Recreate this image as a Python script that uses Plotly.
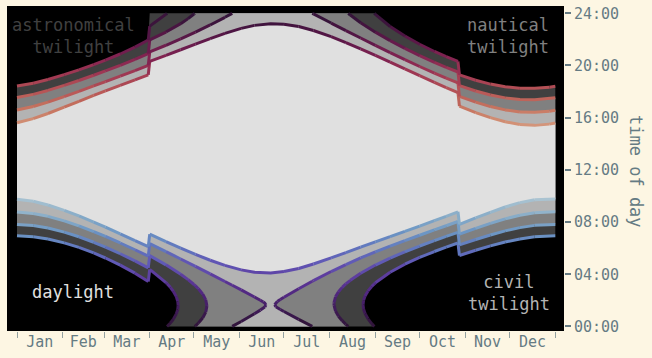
import plotly.graph_objects as go
import pandas as pd

BASE = pd.Timestamp("2013-01-01")

# ---- data: day offset from 1 Jan, time of day in hours
# (dusk values above 24 are after midnight; None = twilight lasts all night)
sun_day = [0, 11, 21, 32, 42, 52, 60, 70, 80, 89, 90, 101, 111, 121, 131, 141, 152, 161, 172, 181,
           191, 201, 213, 223, 233, 243, 253, 263, 273, 283, 291, 299, 300, 311, 321, 331, 341, 351, 361, 365]
sunrise = [9.755, 9.591, 9.308, 8.900, 8.468, 7.998, 7.605, 7.099, 6.584, 6.119, 7.067, 6.502, 6.001, 5.521,
           5.073, 4.677, 4.335, 4.157, 4.104, 4.205, 4.445, 4.782, 5.252, 5.663, 6.078, 6.486, 6.890, 7.291,
           7.694, 8.105, 8.442, 8.787, 7.830, 8.314, 8.747, 9.154, 9.490, 9.711, 9.782, 9.764]
sunset = [15.617, 15.925, 16.320, 16.804, 17.256, 17.704, 18.055, 18.483, 18.904, 19.279, 20.321, 20.782,
          21.205, 21.633, 22.057, 22.459, 22.845, 23.075, 23.206, 23.169, 22.985, 22.682, 22.210, 21.759,
          21.276, 20.772, 20.258, 19.739, 19.220, 18.711, 18.312, 17.929, 16.882, 16.392, 16.001, 15.686,
          15.478, 15.411, 15.506, 15.588]

civil_day = [0, 11, 21, 32, 42, 52, 60, 70, 80, 89, 90, 101, 111, 121, 131, 141, 145.94, 152, 161, 165, 167,
             168, 168.8, 171.75, 174.7, 175.5, 176.5, 178.5, 181, 191, 200.2, 201, 213, 223, 233, 243, 253,
             263, 273, 283, 291, 299, 300, 311, 321, 331, 341, 351, 361, 365]
civil_dawn = [8.777, 8.663, 8.439, 8.093, 7.707, 7.270, 6.894, 6.396, 5.877, 5.394, 6.340, 5.733, 5.171,
              4.601, 4.024, 3.442, 3.156, 2.798, 2.259, 2.010, 1.874, 1.793, 1.645, None, 1.665, 1.818,
              1.907, 2.057, 2.233, 2.889, 3.462, 3.511, 4.208, 4.745, 5.248, 5.716, 6.159, 6.582, 6.991,
              7.396, 7.718, 8.041, 7.080, 7.517, 7.897, 8.244, 8.526, 8.715, 8.789, 8.783]
civil_dusk = [16.595, 16.853, 17.189, 17.611, 18.017, 18.432, 18.766, 19.186, 19.611, 20.004, 21.048,
              21.551, 22.035, 22.553, 23.106, 23.694, 24.000, 24.382, 24.973, 25.252, 25.402, 25.491,
              25.645, None, 25.665, 25.516, 25.435, 25.299, 25.141, 24.541, 24.000, 23.953, 23.254,
              22.677, 22.106, 21.542, 20.989, 20.448, 19.923, 19.420, 19.036, 18.675, 17.632, 17.189,
              16.851, 16.596, 16.442, 16.407, 16.499, 16.569]

naut_day = [0, 11, 21, 32, 42, 52, 60, 70, 80, 89, 90, 101, 111, 116, 120, 120.53, 121, 123, 126, 128,
            128.78, 171.9, 214.95, 215, 216, 218, 220.5, 223, 224.63, 226, 233, 243, 253, 263, 273, 283,
            291, 299, 300, 311, 321, 331, 341, 351, 361, 365]
naut_dawn = [7.818, 7.729, 7.540, 7.231, 6.872, 6.451, 6.078, 5.571, 5.022, 4.492, 5.431, 4.722, 3.998,
             3.588, 3.213, 3.156, 3.107, 2.885, 2.472, 2.037, 1.566, None, 1.727, 1.846, 2.272, 2.658,
             2.992, 3.261, 3.414, 3.535, 4.076, 4.704, 5.242, 5.722, 6.163, 6.580, 6.900, 7.213, 6.250,
             6.661, 7.009, 7.322, 7.574, 7.746, 7.821, 7.821]
naut_dusk = [17.554, 17.787, 18.088, 18.473, 18.852, 19.251, 19.582, 20.011, 20.466, 20.906, 21.957,
             22.562, 23.208, 23.592, 23.947, 24.000, 24.047, 24.265, 24.668, 25.099, 25.566, None,
             25.727, 25.608, 25.178, 24.784, 24.440, 24.161, 24.000, 23.865, 23.278, 22.554, 21.906,
             21.308, 20.751, 20.236, 19.854, 19.503, 18.462, 18.045, 17.739, 17.518, 17.394, 17.376,
             17.467, 17.531]

astro_day = [0, 11, 21, 32, 42, 52, 60, 70, 80, 89, 90, 101, 101.74, 104, 106, 108, 109, 109.28, 172,
             234.64, 235, 236, 238, 240.5, 242.31, 243, 253, 263, 273, 283, 291, 299, 300, 311, 321, 331,
             341, 351, 361, 365]
astro_dawn = [6.947, 6.872, 6.700, 6.407, 6.055, 5.632, 5.245, 4.701, 4.084, 3.445, 4.368, 3.362, 3.280,
              2.998, 2.695, 2.283, 1.926, 1.612, None, 1.669, 1.999, 2.336, 2.723, 3.065, 3.264, 3.341,
              4.157, 4.770, 5.285, 5.742, 6.079, 6.397, 5.435, 5.839, 6.174, 6.470, 6.707, 6.871, 6.947,
              6.949]
astro_dusk = [18.425, 18.644, 18.928, 19.297, 19.669, 20.070, 20.415, 20.881, 21.404, 21.953, 23.020,
              23.922, 24.000, 24.262, 24.549, 24.947, 25.300, 25.612, None, 25.669, 25.335, 24.990,
              24.583, 24.217, 24.000, 23.917, 22.991, 22.260, 21.629, 21.074, 20.675, 20.319, 19.277,
              18.867, 18.574, 18.370, 18.261, 18.251, 18.341, 18.403]

ASTRO_FILL_TO_MIDNIGHT_FROM = 90   # in the reference the astro band is filled up to 24:00 from the DST switch

tick_hours = [0, 4, 8, 12, 16, 20, 24]
tick_text = ["00:00", "04:00", "08:00", "12:00", "16:00", "20:00", "24:00"]

# ---- style
BG = "#fdf6e3"
TXT = "#657b83"
BAND = {"astro": "#404040", "naut": "#808080", "civil": "#b3b3b3", "day": "#e0e0e0"}
FONT = "DejaVu Sans Mono"
CMAP = [(0.00, (47, 20, 55)), (0.05, (62, 26, 85)), (0.10, (80, 38, 125)), (0.15, (92, 56, 155)),
        (0.20, (96, 85, 180)), (0.25, (96, 118, 190)), (0.30, (108, 150, 196)), (0.35, (135, 172, 200)),
        (0.40, (165, 192, 208)), (0.45, (198, 208, 216)), (0.50, (226, 217, 226)), (0.55, (225, 200, 195)),
        (0.60, (216, 170, 150)), (0.65, (210, 145, 118)), (0.70, (198, 115, 95)), (0.75, (183, 85, 86)),
        (0.80, (162, 58, 83)), (0.85, (135, 38, 82)), (0.90, (102, 26, 76)), (0.95, (72, 20, 65)),
        (1.00, (47, 20, 55))]


def cmap(t):
    t = min(max(t, 0.0), 1.0)
    for (t0, c0), (t1, c1) in zip(CMAP[:-1], CMAP[1:]):
        if t <= t1:
            f = (t - t0) / (t1 - t0)
            return "rgb(%d,%d,%d)" % tuple(round(a + (b - a) * f) for a, b in zip(c0, c1))
    return "rgb(%d,%d,%d)" % CMAP[-1][1]


def to_x(d):
    return None if d is None else BASE + pd.Timedelta(days=d)


def runs(days, vals):
    out, cur = [], []
    for d, v in zip(days, vals):
        if v is None:
            if cur:
                out.append(cur)
            cur = []
        else:
            cur.append((d, v))
    if cur:
        out.append(cur)
    return out


def band_polygon(days, dawn, dusk, top_from=None):
    ra, rb = runs(days, dawn), runs(days, dusk)
    if len(ra) == 1:
        pts = ra[0] + rb[0][::-1]
    else:
        a1, a2 = ra
        b1, b2 = rb
        pts = list(a1)
        pts += [(d, v - 24) for d, v in reversed(b1) if v >= 24]
        pts += [(d, v - 24) for d, v in reversed(b2) if v >= 24]
        pts += list(a2)
        pts += [(d, v) for d, v in reversed(b2) if v <= 24]
        top1 = [(d, v) for d, v in reversed(b1) if v <= 24]
        if top_from is not None:
            top1 = [(top_from, 24.0)] + [(d, v) for d, v in top1 if d < top_from]
        pts += top1
    return [to_x(d) for d, _ in pts], [v for _, v in pts]


def pieces(days, vals):
    out = []
    for run in runs(days, vals):
        for (d0, v0), (d1, v1) in zip(run[:-1], run[1:]):
            if v0 <= 24 and v1 <= 24:
                out.append(((d0, v0), (d1, v1)))
            if v0 >= 24 and v1 >= 24:
                out.append(((d0, v0 - 24), (d1, v1 - 24)))
    return out


fig = go.Figure()

for key, (d, a, b, tf) in {"astro": (astro_day, astro_dawn, astro_dusk, ASTRO_FILL_TO_MIDNIGHT_FROM),
                           "naut": (naut_day, naut_dawn, naut_dusk, None),
                           "civil": (civil_day, civil_dawn, civil_dusk, None),
                           "day": (sun_day, sunrise, sunset, None)}.items():
    xs, ys = band_polygon(d, a, b, tf)
    fig.add_trace(go.Scatter(x=xs, y=ys, mode="lines", fill="toself", fillcolor=BAND[key],
                             line=dict(width=0, color=BAND[key]), hoverinfo="skip", showlegend=False))

NB = 120
bins = {}
for d, v in [(astro_day, astro_dawn), (naut_day, naut_dawn), (civil_day, civil_dawn), (sun_day, sunrise),
             (sun_day, sunset), (civil_day, civil_dusk), (naut_day, naut_dusk), (astro_day, astro_dusk)]:
    for (d0, v0), (d1, v1) in pieces(d, v):
        k = int(round((v0 + v1) / 2 / 24 * NB))
        bx, by = bins.setdefault(k, ([], []))
        if bx and bx[-1] == to_x(d0) and by[-1] == v0:
            bx.append(to_x(d1)); by.append(v1)
        else:
            if bx:
                bx.append(None); by.append(None)
            bx += [to_x(d0), to_x(d1)]
            by += [v0, v1]

for k in sorted(bins):
    bx, by = bins[k]
    fig.add_trace(go.Scatter(x=bx, y=by, mode="lines", line=dict(color=cmap(k / NB), width=3),
                             hoverinfo="skip", showlegend=False, connectgaps=False))

x0, x1 = 7, 564
y0, y1 = 6, 331


def px(x):
    return (x - x0) / (x1 - x0)


def py(y):
    return (y1 - y) / (y1 - y0)


ann = [
    dict(text="astronomical<br>twilight", x=px(73), y=py(35.5), color=BAND["astro"], xanchor="center", align="center"),
    dict(text="nautical<br>twilight", x=px(551), y=py(35.5), color=BAND["naut"], xanchor="right", align="right"),
    dict(text="civil<br>twilight", x=px(509), y=py(292.5), color=BAND["civil"], xanchor="center", align="center"),
    dict(text="daylight", x=px(73.3), y=py(292), color=BAND["day"], xanchor="center", align="center"),
]
for a in ann:
    fig.add_annotation(text=a["text"], x=a["x"], y=a["y"], xref="paper", yref="paper", showarrow=False,
                       xanchor=a["xanchor"], yanchor="middle", align=a["align"],
                       font=dict(family=FONT, size=17, color=a["color"]))
fig.add_annotation(text="time of day", x=px(636), y=py(171), xref="paper", yref="paper", showarrow=False,
                   textangle=90, xanchor="center", yanchor="middle", font=dict(family=FONT, size=17, color=TXT))

fig.update_layout(
    width=652, height=358, margin=dict(l=x0, r=652 - x1, t=y0, b=358 - y1, autoexpand=False),
    paper_bgcolor=BG, plot_bgcolor="black", showlegend=False,
    font=dict(family=FONT, color=TXT, size=15),
    xaxis=dict(type="date", range=[to_x(-6.78), to_x(370.9)], tick0="2013-01-01", dtick="M1",
               tickformat="%b", ticklabelmode="period", ticks="outside", ticklen=6, tickwidth=1,
               tickcolor="#93a1a1", showgrid=False, zeroline=False, showline=False, automargin=False,
               ticklabelstandoff=-9, tickfont=dict(family=FONT, size=15, color=TXT)),
    yaxis=dict(range=[-0.35, 24.56], side="right", tickmode="array", tickvals=tick_hours, ticktext=tick_text,
               ticks="outside", ticklen=6, tickwidth=1.5, tickcolor=TXT, showgrid=False, zeroline=False,
               showline=False, automargin=False, tickfont=dict(family=FONT, size=15, color=TXT)),
)

fig.write_html("out.html", config={"displayModeBar": False},
               post_script="document.body.style.margin='0';")
